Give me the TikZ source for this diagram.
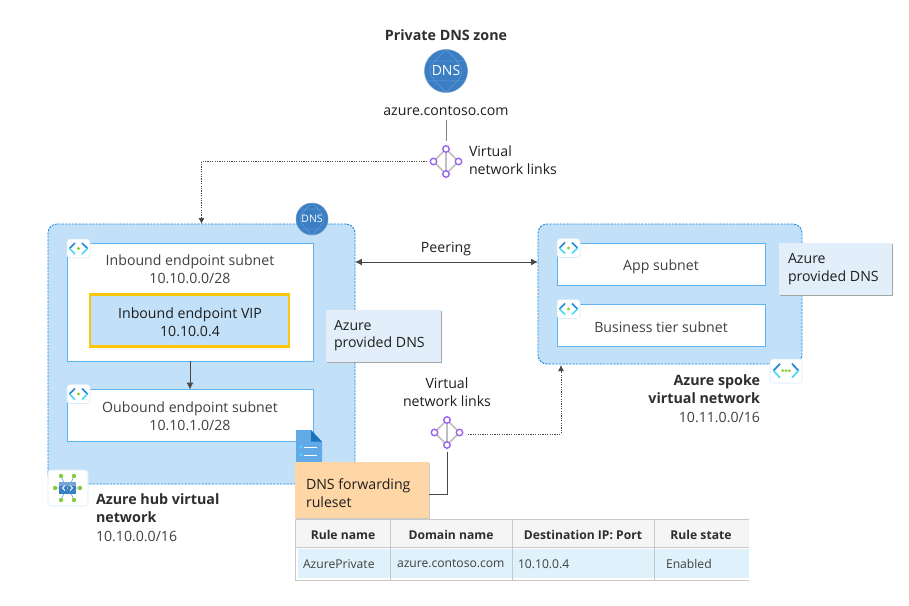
\documentclass[tikz,border=0pt]{standalone}
\usepackage{fontspec}
\setmainfont{Open Sans}
\usetikzlibrary{arrows.meta,shadows,calc}
\newdimen\px \px=0.75pt
\definecolor{txt}{HTML}{404040}
\definecolor{txtd}{HTML}{1E1E1E}
\definecolor{vnetfill}{HTML}{C2E0F7}
\definecolor{vnetline}{HTML}{1E88DC}
\definecolor{subline}{HTML}{5DB2F2}
\definecolor{vipline}{HTML}{FBC60C}
\definecolor{notefill}{HTML}{E2EFFB}
\definecolor{orangefill}{HTML}{FFD7A6}
\definecolor{rowfill}{HTML}{DFF1FA}
\definecolor{headfill}{HTML}{F5F5F5}
\definecolor{tline}{HTML}{C8C8C8}
\definecolor{globe}{HTML}{3A7EC4}
\definecolor{globed}{HTML}{2F6DB0}
\definecolor{chevd}{HTML}{1F86DC}
\definecolor{chevl}{HTML}{4BD8F8}
\definecolor{leaf}{HTML}{86CC3A}
\definecolor{purp}{HTML}{9A63EE}
\definecolor{conn}{HTML}{484848}
\tikzset{
  x=0.75pt,y=-0.75pt,
  every node/.style={inner sep=0pt,outer sep=0pt},
  lbl/.style={text=txt,font=\fontsize{10.6pt}{13.3pt}\selectfont,align=center},
  lbld/.style={lbl,text=txtd},
  lblleft/.style={lbl,text=txtd,align=left,anchor=west},
  lblbold/.style={text=black!82,font=\fontsize{10.7pt}{13.5pt}\selectfont\bfseries,align=center},
  tabhead/.style={text=black!82,font=\fontsize{9.1pt}{11pt}\selectfont\bfseries},
  tabcell/.style={text=txt,font=\fontsize{9.1pt}{11pt}\selectfont,anchor=west},
  vnet/.style={draw=vnetline,fill=vnetfill,line width=0.9\px,rounded corners=9\px,dash pattern=on 1.65pt off 0.9pt},
  subnet/.style={draw=subline,fill=white,line width=1\px},
  vip/.style={draw=vipline,fill=vnetfill,line width=2.2\px},
  note/.style={fill=notefill,drop shadow={shadow xshift=1\px,shadow yshift=-1\px,fill=black!35,opacity=1}},
  orangebox/.style={fill=orangefill,drop shadow={shadow xshift=1\px,shadow yshift=-1\px,fill=black!20,opacity=1}},
  tile/.style={fill=white,draw=vnetfill!60,line width=0.6\px,rounded corners=3\px},
  globeicon/.style={circle,fill=globe,draw=globed!70,line width=0.5\px,text=white,
    path picture={
      \draw[white,opacity=0.22,line width=0.5\px]
        (path picture bounding box.north) .. controls (path picture bounding box.west) and (path picture bounding box.west) .. (path picture bounding box.south)
        (path picture bounding box.north) .. controls (path picture bounding box.east) and (path picture bounding box.east) .. (path picture bounding box.south)
        ($(path picture bounding box.center)+(-30,-10)$) -- ($(path picture bounding box.center)+(30,-10)$)
        ($(path picture bounding box.center)+(-30,10)$) -- ($(path picture bounding box.center)+(30,10)$);
    }},
  linknode/.style={circle,draw=purp,fill=white,line width=1.4\px,minimum size=6.5\px},
  linkedge/.style={draw=black!25,line width=1.6\px},
  dotconn/.style={draw=conn,line width=0.8\px,dash pattern=on 0.9pt off 0.9pt,-{Latex[length=4.5pt,width=4.5pt]}},
  solidconn/.style={draw=conn,line width=1\px},
  arrowconn/.style={draw=conn,line width=1\px,{Latex[length=5.2pt,width=5.2pt]}-{Latex[length=5.2pt,width=5.2pt]}},
  downconn/.style={draw=conn,line width=1\px,-{Latex[length=5.2pt,width=5.2pt]}},
  chevu/.style={draw=chevd,line width=1.5\px},
  chevb/.style={draw=chevl,line width=1.5\px},
}
% small subnet tile: centre x, y
\newcommand{\subtile}[2]{%
  \begin{scope}[shift={(#1,#2)}]
    \fill[white,draw=vnetfill!60,line width=0.6\px,rounded corners=3\px] (-11.5,-9.5) rectangle (11.5,9.5);
    \draw[chevu] (-3.5,-5.5) -- (-9,0) (3.5,-5.5) -- (9,0);
    \draw[chevb] (-9,0) -- (-3.5,5.5) (9,0) -- (3.5,5.5);
    \fill[leaf] (0,0) circle (1.7);
  \end{scope}}
% link icon: node name, centre x, y
\newcommand{\linkicon}[3]{%
  \begin{scope}[shift={(#2,#3)}]
    \path[linkedge] (0,-12.5) -- (-12.5,0) -- (0,12.5) -- (12.5,0) -- cycle (0,-12.5) -- (0,12.5);
    \node[linknode] at (0,-12.5) {};
    \node[linknode] at (-12.5,0) {};
    \node[linknode] at (12.5,0) {};
    \node[linknode] at (0,12.5) {};
  \end{scope}
  \node[minimum size=38\px] (#1) at (#2,#3) {};}
\begin{document}
\begin{tikzpicture}
\useasboundingbox (0,0) rectangle (909,606);
\fill[white] (0,0) rectangle (909,606);

% virtual networks
\node[vnet,minimum width=307\px,minimum height=260\px] (hub) at (201.5,354) {};
\node[vnet,minimum width=264\px,minimum height=140\px] (spoke) at (670,294) {};

% DNS zone
\node[lblbold] (zonetitle) at (446,35) {Private DNS zone};
\node[globeicon,minimum size=43\px,font=\fontsize{10.5pt}{12pt}\selectfont] (dnszone) at (446,71) {DNS};
\node[lbld] (zonename) at (446,111) {azure.contoso.com};
\node[globeicon,minimum size=32\px,font=\fontsize{7.8pt}{9pt}\selectfont] (dnshub) at (312,219) {DNS};

% hub subnets
\node[subnet,minimum width=245.5\px,minimum height=117.5\px] (inb) at (190.25,302.25) {};
\node[lbl] (inbtext) at (190,269) {Inbound endpoint subnet\\10.10.0.0/28};
\node[vip,minimum width=199\px,minimum height=52\px] (vip) at (189.5,320.5) {};
\node[lbl,text=txtd] (viptext) at (190,322) {Inbound endpoint VIP\\10.10.0.4};
\node[subnet,minimum width=245.5\px,minimum height=52\px] (outb) at (190.25,415.5) {};
\node[lbl] (outbtext) at (190,416.5) {Oubound endpoint subnet\\10.10.1.0/28};
\subtile{78.5}{248.5}
\subtile{78.5}{394}

% spoke subnets
\node[subnet,minimum width=208\px,minimum height=42\px] (app) at (661,264.5) {};
\node[subnet,minimum width=208\px,minimum height=42.5\px] (biz) at (661,325.25) {};
\node[lbl] (apptext) at (661,267) {App subnet};
\node[lbl] (biztext) at (661,327.5) {Business tier subnet};
\subtile{568.5}{248}
\subtile{568.5}{309}

% notes
\node[note,minimum width=115\px,minimum height=52\px] (note1) at (383.5,336) {};
\node[lblleft] (note1text) at (334,335.5) {Azure\\provided DNS};
\node[note,minimum width=113\px,minimum height=52\px] (note2) at (835.5,269) {};
\node[lblleft] (note2text) at (788,269) {Azure\\provided DNS};

% labels
\node[lblleft] (lk1text) at (469,160.5) {Virtual\\network links};
\node[lbld] (lk2text) at (447,392.5) {Virtual\\network links};
\node[lbld] (peertext) at (446,249.5) {Peering};
\node[lblbold,align=left,anchor=west] (hubtitle) at (96,508.5) {Azure hub virtual\\network};
\node[lbl,anchor=west] (hubaddr) at (96,536) {10.10.0.0/16};
\node[lblbold,align=right,anchor=east] (spoketitle) at (760,389.5) {Azure spoke\\virtual network};
\node[lbl,anchor=east] (spokeaddr) at (760,417) {10.11.0.0/16};

% link icons
\linkicon{lk1}{446}{161.5}
\linkicon{lk2}{447}{432.5}

% hub and spoke tiles
\node[tile,minimum width=40\px,minimum height=36\px] (hubtile) at (68,488) {};
\begin{scope}[shift={(67.5,488)}]
  \draw[subline,line width=0.7\px] (-6.5,-12) -- (-3,-4) (6.5,-12) -- (3,-4) (-6.5,12) -- (-3,4) (6.5,12) -- (3,4) (-12,0) -- (-8,0) (12,0) -- (8,0);
  \fill[leaf] (-6.5,-12) circle (2.2) (6.5,-12) circle (2.2) (-6.5,12) circle (2.2) (6.5,12) circle (2.2) (-12.5,0) circle (2.2) (12.5,0) circle (2.2);
  \fill[globe] (-8.5,-6) rectangle (8.5,6);
  \fill[globe!70] (-8.5,-6) rectangle (8.5,-2);
  \draw[white,line width=0.8\px] (-2.5,-2.5) -- (-5,0) -- (-2.5,2.5) (2.5,-2.5) -- (5,0) -- (2.5,2.5);
  \fill[white] (0,0) circle (0.7);
\end{scope}
\node[tile,minimum width=32\px,minimum height=24\px] (spoketile) at (786,371) {};
\begin{scope}[shift={(786,370.7)}]
  \draw[chevu,line width=1.7\px] (-6,-7) -- (-12.5,0) (6,-7) -- (12.5,0);
  \draw[chevb,line width=1.7\px] (-12.5,0) -- (-6,7) (12.5,0) -- (6,7);
  \fill[leaf] (-3.3,0) circle (1.5) (0,0) circle (1.5) (3.3,0) circle (1.5);
\end{scope}

% ruleset document icon
\fill[chevd!70!white] (296,430) -- (311,430) -- (322,441.7) -- (322,462) -- (296,462) -- cycle;
\fill[chevd!85!black] (311,430) -- (322,441.7) -- (311,441.7) -- cycle;
\draw[white,line width=0.9\px] (304,447) -- (317,447) (304,455) -- (317,455);
\fill[chevl] (299.5,445.7) rectangle (302,448.2) (299.5,453.7) rectangle (302,456.2);

% orange box
\node[orangebox,minimum width=134\px,minimum height=56\px] (ruleset) at (362,490) {};
\node[lblleft] (rulesettext) at (306,493.5) {DNS forwarding\\ruleset};

% table
\fill[headfill] (295.5,519) rectangle (749,547);
\fill[rowfill] (297.5,549) rectangle (749,578);
\coordinate (tnw) at (295.5,519);
\coordinate (tne) at (749,519);
\coordinate (tw) at (295.5,547);
\coordinate (te) at (749,547);
\coordinate (tsw) at (295.5,580.5);
\coordinate (tse) at (749,580.5);
\draw[tline,line width=1\px] (tne) -- (tnw) -- (tsw) -- (tse) (tw) -- (te);
\foreach \cx in {390.5,512.5,654.5} \draw[tline,line width=1\px] (\cx,519) -- (\cx,580.5);
\node[tabhead] (h1) at (343,534.5) {Rule name};
\node[tabhead] (h2) at (451,534.5) {Domain name};
\node[tabhead] (h3) at (583,534.5) {Destination IP: Port};
\node[tabhead] (h4) at (701,534.5) {Rule state};
\node[tabcell] (c1) at (303,564) {AzurePrivate};
\node[tabcell] (c2) at (397,564) {azure.contoso.com};
\node[tabcell] (c3) at (518,564) {10.10.0.4};
\node[tabcell] (c4) at (666,564) {Enabled};

% connectors
\coordinate (peery) at (446,262);
\coordinate (spokein) at (561,365);
\coordinate (zonebot) at (446,120);
\coordinate (lk1top) at (446,141.5);
\coordinate (lk1left) at (427,161.5);
\coordinate (lk2right) at (468,434);
\coordinate (lk2bot) at (447,452);
\coordinate (rsright) at (429,494);
\draw[solidconn,draw=black!50] (zonebot) -- (lk1top);
\draw[dotconn] (lk1left) -| (hub.north);
\draw[arrowconn] (hub.east |- peery) -- (spoke.west |- peery);
\draw[downconn] (inb.south -| outbtext) -- (outb.north -| outbtext);
\draw[dotconn] (lk2right) -| (spokein);
\draw[solidconn] (lk2bot) |- (rsright);
\end{tikzpicture}
\end{document}
